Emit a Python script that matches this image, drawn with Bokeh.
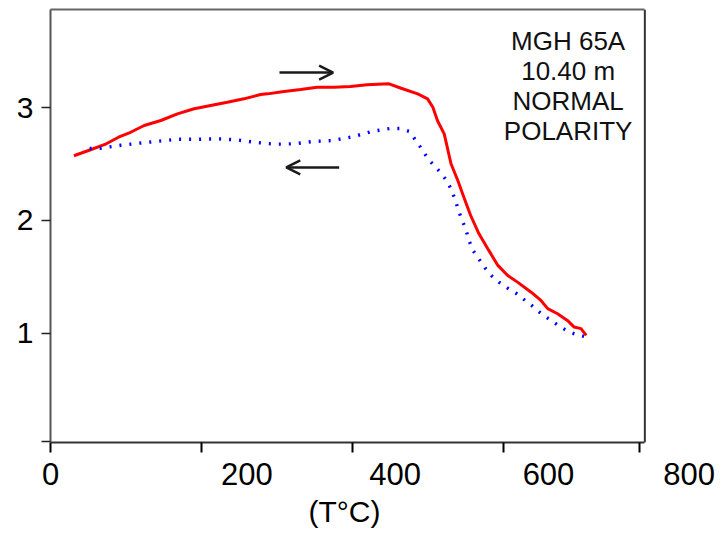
from bokeh.plotting import figure
from bokeh.models import (Range1d, FixedTicker, LinearAxis, Span, Arrow, OpenHead,
                          ColumnDataSource)
from bokeh.core.properties import value
from bokeh.embed import file_html
from bokeh.resources import INLINE

# ---------------- data ----------------
# heating curve (red, solid)
heat_T = [31, 53, 72, 90, 106, 124, 146, 168, 190, 212, 234, 256, 278, 287, 309, 331,
          353, 375, 397, 419, 448, 464, 486, 499, 506, 512, 521, 530, 539, 547, 556,
          567, 580, 592, 605, 618, 636, 649, 658, 671, 684, 693, 702, 709]
heat_M = [2.573, 2.626, 2.673, 2.737, 2.781, 2.841, 2.885, 2.944, 2.989, 3.018, 3.047,
          3.077, 3.115, 3.121, 3.142, 3.159, 3.180, 3.180, 3.186, 3.201, 3.210, 3.171,
          3.121, 3.077, 3.003, 2.885, 2.767, 2.502, 2.354, 2.206, 2.044, 1.882, 1.735,
          1.602, 1.513, 1.454, 1.365, 1.292, 1.219, 1.174, 1.115, 1.056, 1.042, 0.982]

# cooling curve (blue, dotted)
cool_T = [706, 693, 681, 670, 659, 648, 638, 627, 616, 605, 594, 584, 575, 567, 559,
          554, 550, 545, 540, 536, 531, 525, 517, 508, 499, 491, 483, 475, 463, 449,
          425, 400, 373, 347, 322, 297, 273, 246, 221, 194, 168, 143, 117, 93, 67, 42]
cool_M = [0.973, 0.997, 1.033, 1.080, 1.130, 1.183, 1.241, 1.298, 1.356, 1.401, 1.451,
          1.509, 1.580, 1.658, 1.735, 1.819, 1.912, 2.000, 2.084, 2.174, 2.265, 2.345,
          2.419, 2.482, 2.553, 2.635, 2.712, 2.788, 2.814, 2.814, 2.788, 2.741, 2.708,
          2.699, 2.679, 2.675, 2.690, 2.714, 2.723, 2.719, 2.719, 2.702, 2.684, 2.666,
          2.640, 2.635]

x_ticks = [0, 200, 400, 600, 800]
x_tick_labels = ["0", "200", "400", "600", "800"]
y_ticks = [1, 2, 3]
y_tick_labels = ["1", "2", "3"]
annotation_lines = ["MGH 65A", "10.40 m", "NORMAL", "POLARITY"]
x_title = "(T°C)"

# ---------------- layout ----------------
FONT = "Liberation Sans"
BOX_END = 786.5                 # right edge of the drawn box (data units)
X_END = 880                     # canvas area extends right so the "800" text fits
Y_START, Y_END = 0.034, 3.868
x_label_at = [0, 260, 456, 659, 845]   # where the tick texts sit in the picture
x_title_at = 389                        # centre of the axis title

p = figure(width=720, height=531, output_backend="svg", toolbar_location=None,
           x_range=Range1d(0, X_END), y_range=Range1d(Y_START, Y_END),
           min_border_left=50, min_border_right=5, min_border_top=9, min_border_bottom=89)
p.background_fill_color = "white"
p.border_fill_color = "white"
p.grid.visible = False
p.outline_line_color = None

# main x axis: tick marks only
xt = [t for t in x_ticks if t < BOX_END] + [780]
xa = p.xaxis[0]
xa.bounds = (0, BOX_END)
xa.ticker = FixedTicker(ticks=xt)
xa.major_label_overrides = {t: "" for t in xt}
xa.major_label_text_font_size = "0px"
xa.major_label_standoff = 0
xa.major_tick_out = 10
xa.major_tick_in = 0
xa.minor_tick_out = 0
xa.minor_tick_in = 0
xa.axis_line_color = "#333333"
xa.axis_line_width = 2
xa.major_tick_line_color = "black"
xa.major_tick_line_width = 2

# tick texts (placed as in the picture)
lab_axis = LinearAxis(ticker=FixedTicker(ticks=x_label_at),
                      major_label_overrides={pos: lab for pos, lab in zip(x_label_at, x_tick_labels)},
                      axis_line_color=None, major_tick_line_color=None,
                      minor_tick_line_color=None, major_tick_out=0, major_tick_in=0,
                      major_label_standoff=10,
                      major_label_text_font=FONT, major_label_text_font_size="31px",
                      major_label_text_color="black")
p.add_layout(lab_axis, "below")

# axis title (offset left of the frame centre, as in the picture)
title_axis = LinearAxis(ticker=FixedTicker(ticks=[x_title_at]),
                        major_label_overrides={x_title_at: x_title},
                        axis_line_color=None, major_tick_line_color=None,
                        minor_tick_line_color=None, major_tick_out=0, major_tick_in=0,
                        major_label_standoff=7,
                        major_label_text_font=FONT, major_label_text_font_size="30px",
                        major_label_text_color="black")
p.add_layout(title_axis, "below")

# top edge of the box
top_axis = LinearAxis(ticker=FixedTicker(ticks=[]), bounds=(0, BOX_END),
                      axis_line_color="#666666", axis_line_width=2,
                      major_tick_line_color=None, minor_tick_line_color=None,
                      major_label_text_font_size="0px", major_label_standoff=0,
                      major_tick_out=0, major_tick_in=0)
p.add_layout(top_axis, "above")

# right edge of the box
p.add_layout(Span(location=BOX_END, dimension="height", line_color="#333333", line_width=2))

# y axis
ya = p.yaxis[0]
ya.ticker = FixedTicker(ticks=[Y_START + 0.012] + y_ticks)
ya.major_label_overrides = {Y_START + 0.012: "", **{t: l for t, l in zip(y_ticks, y_tick_labels)}}
ya.major_tick_out = 9
ya.major_tick_in = 0
ya.minor_tick_out = 0
ya.minor_tick_in = 0
ya.axis_line_color = "#555555"
ya.axis_line_width = 2
ya.major_tick_line_color = "#222222"
ya.major_tick_line_width = 1.5
ya.major_label_standoff = 8
ya.major_label_text_font = FONT
ya.major_label_text_font_size = "30px"
ya.major_label_text_color = "black"

# curves
p.line(heat_T, heat_M, line_color="#ff0000", line_width=3)
p.line(cool_T, cool_M, line_color="#0000ff", line_width=3.4, line_dash="2 8")

# direction arrows
p.add_layout(Arrow(x_start=303, y_start=3.31, x_end=374, y_end=3.31,
                   line_color="#1a1a1a", line_width=2.5,
                   end=OpenHead(size=14, line_color="#1a1a1a", line_width=2.5)))
p.add_layout(Arrow(x_start=382, y_start=2.47, x_end=312, y_end=2.47,
                   line_color="#1a1a1a", line_width=2.5,
                   end=OpenHead(size=14, line_color="#1a1a1a", line_width=2.5)))

# sample annotation
ann_x = 685
ann_top = 3.593
ann_step = 0.2655
src = ColumnDataSource(dict(x=[ann_x] * len(annotation_lines),
                            y=[ann_top - i * ann_step for i in range(len(annotation_lines))],
                            t=annotation_lines))
p.text(x="x", y="y", text="t", source=src, text_font=value(FONT), text_font_size="26px",
       text_color="#111111", text_align="center", text_baseline="alphabetic")

open("out.html", "w").write(file_html(p, INLINE))
